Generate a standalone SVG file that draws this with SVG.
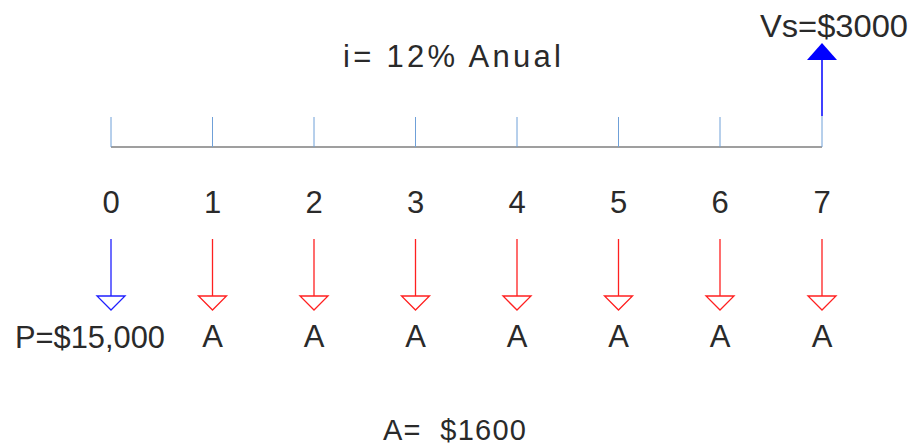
<svg xmlns="http://www.w3.org/2000/svg" width="917" height="447" viewBox="0 0 917 447">
<style>
text{font-family:"Liberation Sans",Arial,sans-serif;font-size:31px;fill:#2a2a2a;text-anchor:middle}
.tick{stroke:#6fa0d8;stroke-width:1}
.axis{stroke:#7f7f7f;stroke-width:1.5}
.red{stroke:#ff2020;stroke-width:1.3;fill:none}
.blue{stroke:#2020ff;stroke-width:1.3;fill:none}
</style>
<rect width="917" height="447" fill="#fff"/>
<g id="connectors">
<line class="axis" x1="111" y1="147" x2="822" y2="147"/>
<line class="tick" x1="111" y1="117" x2="111" y2="147"/>
<line class="tick" x1="212.5" y1="117" x2="212.5" y2="147"/>
<line class="tick" x1="314" y1="117" x2="314" y2="147"/>
<line class="tick" x1="415.5" y1="117" x2="415.5" y2="147"/>
<line class="tick" x1="517" y1="117" x2="517" y2="147"/>
<line class="tick" x1="618.5" y1="117" x2="618.5" y2="147"/>
<line class="tick" x1="720" y1="117" x2="720" y2="147"/>
<line class="tick" x1="822" y1="116" x2="822" y2="147"/>
<line x1="822" y1="116" x2="822" y2="59" stroke="#0000ff" stroke-width="1.5"/>
<polygon points="822,43 807,60 837,60" fill="#0000ff"/>
<g class="blue"><line x1="111" y1="239" x2="111" y2="296"/><polygon points="97,296 125,296 111,310"/></g>
<g class="red"><line x1="212.5" y1="239" x2="212.5" y2="296"/><polygon points="198.5,296 226.5,296 212.5,310"/></g>
<g class="red"><line x1="314" y1="239" x2="314" y2="296"/><polygon points="300,296 328,296 314,310"/></g>
<g class="red"><line x1="415.5" y1="239" x2="415.5" y2="296"/><polygon points="401.5,296 429.5,296 415.5,310"/></g>
<g class="red"><line x1="517" y1="239" x2="517" y2="296"/><polygon points="503,296 531,296 517,310"/></g>
<g class="red"><line x1="618.5" y1="239" x2="618.5" y2="296"/><polygon points="604.5,296 632.5,296 618.5,310"/></g>
<g class="red"><line x1="720" y1="239" x2="720" y2="296"/><polygon points="706,296 734,296 720,310"/></g>
<g class="red"><line x1="822" y1="239" x2="822" y2="296"/><polygon points="808,296 836,296 822,310"/></g>
</g>
<g id="labels-periods">
<text x="111" y="213">0</text>
<text x="212.5" y="213">1</text>
<text x="314" y="213">2</text>
<text x="415.5" y="213">3</text>
<text x="517" y="213">4</text>
<text x="618.5" y="213">5</text>
<text x="720" y="213">6</text>
<text x="822" y="213">7</text>
</g>
<g id="labels-A">
<text x="212.5" y="347">A</text>
<text x="314" y="347">A</text>
<text x="415.5" y="347">A</text>
<text x="517" y="347">A</text>
<text x="618.5" y="347">A</text>
<text x="720" y="347">A</text>
<text x="822" y="347">A</text>
</g>
<g id="label-P"><text x="90" y="348" textLength="150" lengthAdjust="spacingAndGlyphs">P=$15,000</text></g>
<g id="label-Vs"><text x="834" y="37" textLength="148" lengthAdjust="spacingAndGlyphs">Vs=$3000</text></g>
<g id="label-i"><text x="452" y="67" textLength="218" lengthAdjust="spacing">i= 12% Anual</text></g>
<g id="label-Aval"><text x="454.5" y="440" style="font-size:29px" textLength="143" lengthAdjust="spacing" xml:space="preserve">A=  $1600</text></g>
</svg>
